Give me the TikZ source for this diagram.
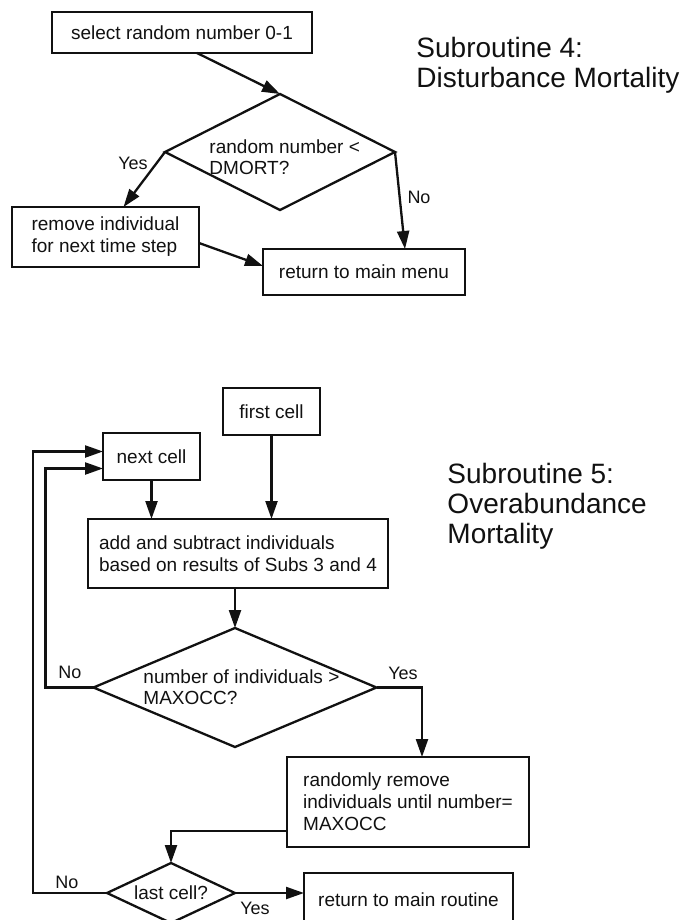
\documentclass[tikz,border=0pt]{standalone}
\usepackage{fontspec}
\setmainfont{Liberation Sans}
\usepackage{xcolor}
\usepackage{tikz}
\usetikzlibrary{positioning, arrows.meta, shapes.geometric, calc}
\definecolor{ink}{HTML}{111111}

\begin{document}
\begin{tikzpicture}[x=1pt, y=-1pt, line width=2.3pt, color=ink,
    box/.style={draw, rectangle, inner sep=0pt, outer sep=0pt, align=left,
      font=\fontsize{19}{22}\selectfont},
    choice/.style={draw, diamond, inner sep=0pt, outer sep=0pt,
      font=\fontsize{19}{22}\selectfont},
    txt/.style={anchor=west, align=left, font=\fontsize{19}{21}\selectfont},
    ans/.style={font=\fontsize{18}{20}\selectfont},
    heading/.style={anchor=west, align=left, font=\fontsize{28}{30}\selectfont},
    flow/.style={-{Triangle[length=18pt, width=12pt]}, line join=miter}]
  \useasboundingbox (0,0) rectangle (681,920);

  % Subroutine 4
  \node[box, minimum width=260pt, minimum height=41pt] (sel) at (182,32.5) {select random number 0-1};
  \node[choice, minimum width=230pt, minimum height=116pt] (d1) at (280,152) {};
  \node[txt] (d1txt) at (205,157) {random number <\\DMORT?};
  \node[box, minimum width=187pt, minimum height=60pt] (rem) at (105.5,237) {remove individual\\for next time step};
  \node[box, minimum width=202pt, minimum height=46pt] (ret) at (364,272) {return to main menu};
  \node[heading] (sub4) at (412,65) {Subroutine 4:\\Disturbance Mortality};
  \node[ans] (yes1) at (133,163) {Yes};
  \node[ans] (no1) at (419,197) {No};

  \draw[flow] ($(sel.south)+(15,0)$) -- (d1.north);
  \draw[flow] (d1.west) -- ($(rem.north)+(18,0)$);
  \draw[flow] (d1.east) -- ($(ret.north)+(41,0)$);
  \draw[flow] ($(rem.east)+(0,6)$) -- ($(ret.west)+(0,-6)$);

  % Subroutine 5
  \node[box, minimum width=97pt, minimum height=47pt] (first) at (271.5,411.5) {first cell};
  \node[box, minimum width=97pt, minimum height=47pt] (nxt) at (151.5,456.5) {next cell};
  \node[box, minimum width=300pt, minimum height=69pt] (big) at (238,553.5) {add and subtract individuals\\based on results of Subs 3 and 4};
  \node[choice, minimum width=283pt, minimum height=119pt] (d2) at (235,687.5) {};
  \node[txt] (d2txt) at (139,687) {number of individuals >\\MAXOCC?};
  \node[box, minimum width=242pt, minimum height=90pt] (rmv) at (408,802) {randomly remove\\individuals until number=\\MAXOCC};
  \node[choice, aspect=2.13, minimum width=128pt, minimum height=60pt] (last) at (171,893) {last cell?};
  \node[box, minimum width=209pt, minimum height=54pt] (ret2) at (408.5,900) {return to main routine};
  \node[heading] (sub5) at (443,506) {Subroutine 5:\\Overabundance\\Mortality};
  \node[ans] (no2) at (70,672) {No};
  \node[ans] (yes2) at (403,673) {Yes};
  \node[ans] (no3) at (67,882) {No};
  \node[ans] (yes3) at (255,908) {Yes};

  \draw[flow] (nxt.south) -- (nxt.south |- big.north);
  \draw[flow] (first.south) -- (first.south |- big.north);
  \draw[flow] (d2.north |- big.south) -- (d2.north);
  \draw[flow] (d2.west) -- ++(-48,0) |- ($(nxt.west)+(0,12)$);
  \draw[flow] (d2.east) -| ($(rmv.north)+(14,0)$);
  \draw[flow] ($(rmv.west)+(0,29)$) -| (last.north);
  \draw[flow] (last.west) -- ++(-74,0) |- ($(nxt.west)+(0,-5)$);
  \draw[flow] (last.east) -- (last.east -| ret2.west);
\end{tikzpicture}
\end{document}
